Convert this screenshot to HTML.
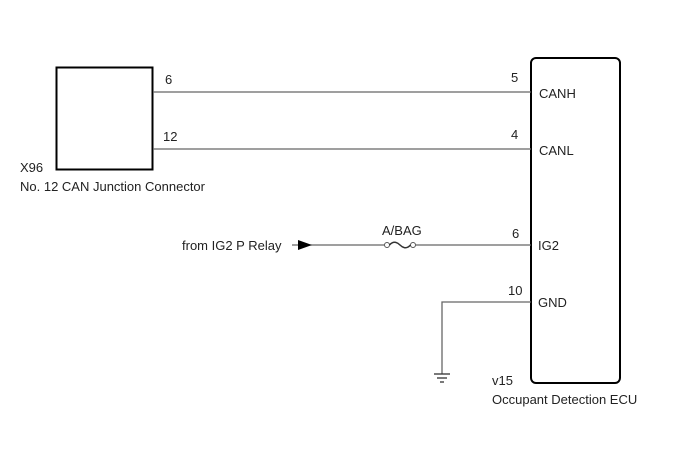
<!DOCTYPE html>
<html><head><meta charset="utf-8"><style>
html,body{margin:0;padding:0;background:#fff;}
svg{display:block;}
text{font-family:"Liberation Sans",Arial,sans-serif;font-size:13px;fill:#222;}
</style></head><body>
<svg width="688" height="463" viewBox="0 0 688 463" xmlns="http://www.w3.org/2000/svg">
<rect x="56.5" y="67.5" width="96" height="102" fill="none" stroke="#000" stroke-width="2"/>
<rect x="531" y="58" width="89" height="325" rx="5" ry="5" fill="none" stroke="#000" stroke-width="2"/>
<g stroke="#666" stroke-width="1.3" fill="none">
<line x1="153" y1="92" x2="531" y2="92"/>
<line x1="153" y1="149" x2="531" y2="149"/>
<line x1="292" y1="245" x2="384" y2="245"/>
<line x1="416" y1="245" x2="531" y2="245"/>
<polyline points="531,302 442,302 442,374"/>
</g>
<polygon points="298,240 312,245 298,250" fill="#000"/>
<circle cx="387" cy="245" r="2.5" fill="#fff" stroke="#555" stroke-width="1"/>
<circle cx="413" cy="245" r="2.5" fill="#fff" stroke="#555" stroke-width="1"/>
<path d="M389.5,245 C394,240 398,243 400,245 C402,247 406,250 410.5,245" fill="none" stroke="#333" stroke-width="1.5"/>
<g stroke="#333" stroke-width="1.3">
<line x1="434" y1="374" x2="450" y2="374"/>
<line x1="437" y1="378" x2="447" y2="378"/>
<line x1="440" y1="382" x2="444" y2="382"/>
</g>
<text x="165" y="84">6</text>
<text x="163" y="141">12</text>
<text x="20" y="172">X96</text>
<text x="20" y="191">No. 12 CAN Junction Connector</text>
<text x="511" y="82">5</text>
<text x="539" y="98">CANH</text>
<text x="511" y="139">4</text>
<text x="539" y="155">CANL</text>
<text x="382" y="235">A/BAG</text>
<text x="512" y="238">6</text>
<text x="538" y="250">IG2</text>
<text x="182" y="250">from IG2 P Relay</text>
<text x="508" y="295">10</text>
<text x="538" y="307">GND</text>
<text x="492" y="385">v15</text>
<text x="492" y="404">Occupant Detection ECU</text>
</svg>
</body></html>
